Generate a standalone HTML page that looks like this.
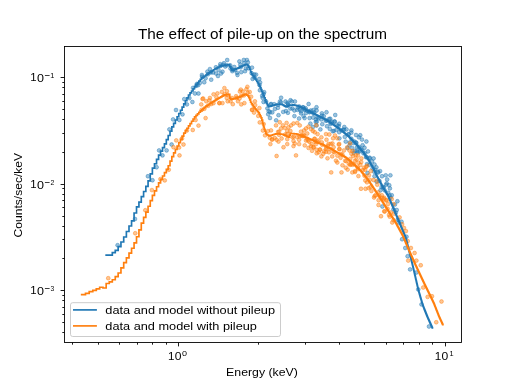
<!DOCTYPE html>
<html><head><meta charset="utf-8"><style>html,body{margin:0;padding:0;background:#fff;width:512px;height:384px;overflow:hidden}</style></head>
<body><svg width="512" height="384" viewBox="0 0 512 384" style="display:block;will-change:transform">
<rect width="512" height="384" fill="#fff"/>
<rect x="64.5" y="46.5" width="397" height="296" fill="#fff" stroke="none"/>
<g fill="#1f77b4" fill-opacity="0.45" stroke="#1f77b4" stroke-opacity="0.45" stroke-width="0.95"><circle cx="213.00" cy="72.50" r="1.9"/><circle cx="218.50" cy="70.00" r="1.9"/><circle cx="221.00" cy="73.50" r="1.9"/><circle cx="211.20" cy="79.70" r="1.9"/><circle cx="260.10" cy="82.50" r="1.9"/><circle cx="234.30" cy="67.00" r="1.9"/><circle cx="184.25" cy="99.10" r="1.9"/><circle cx="192.40" cy="102.00" r="1.9"/><circle cx="199.90" cy="82.90" r="1.9"/><circle cx="196.75" cy="84.10" r="1.9"/><circle cx="204.25" cy="82.25" r="1.9"/><circle cx="207.40" cy="71.60" r="1.9"/><circle cx="209.90" cy="69.10" r="1.9"/><circle cx="216.10" cy="73.50" r="1.9"/><circle cx="218.00" cy="76.00" r="1.9"/><circle cx="220.50" cy="66.00" r="1.9"/><circle cx="230.50" cy="68.50" r="1.9"/><circle cx="193.00" cy="87.90" r="1.9"/><circle cx="315.75" cy="121.90" r="1.9"/><circle cx="322.30" cy="124.20" r="1.9"/><circle cx="320.40" cy="129.40" r="1.9"/><circle cx="330.75" cy="122.80" r="1.9"/><circle cx="334.50" cy="121.40" r="1.9"/><circle cx="339.20" cy="123.75" r="1.9"/><circle cx="344.30" cy="127.00" r="1.9"/><circle cx="351.40" cy="130.30" r="1.9"/><circle cx="356.00" cy="135.00" r="1.9"/><circle cx="358.90" cy="137.30" r="1.9"/><circle cx="312.90" cy="127.00" r="1.9"/><circle cx="336.40" cy="129.80" r="1.9"/><circle cx="329.80" cy="128.90" r="1.9"/><circle cx="339.20" cy="132.20" r="1.9"/><circle cx="344.80" cy="136.90" r="1.9"/><circle cx="348.55" cy="134.50" r="1.9"/><circle cx="351.40" cy="138.75" r="1.9"/><circle cx="356.00" cy="142.50" r="1.9"/><circle cx="345.75" cy="141.60" r="1.9"/><circle cx="349.50" cy="145.30" r="1.9"/><circle cx="352.30" cy="148.10" r="1.9"/><circle cx="357.00" cy="147.20" r="1.9"/><circle cx="347.60" cy="148.10" r="1.9"/><circle cx="353.70" cy="152.80" r="1.9"/><circle cx="368.00" cy="151.40" r="1.9"/><circle cx="365.10" cy="153.30" r="1.9"/><circle cx="369.80" cy="158.40" r="1.9"/><circle cx="373.60" cy="158.40" r="1.9"/><circle cx="367.00" cy="164.10" r="1.9"/><circle cx="374.50" cy="164.50" r="1.9"/><circle cx="376.40" cy="167.30" r="1.9"/><circle cx="380.10" cy="171.10" r="1.9"/><circle cx="378.25" cy="172.50" r="1.9"/><circle cx="382.00" cy="176.25" r="1.9"/><circle cx="385.75" cy="175.30" r="1.9"/><circle cx="390.40" cy="175.30" r="1.9"/><circle cx="387.15" cy="179.50" r="1.9"/><circle cx="386.70" cy="183.30" r="1.9"/><circle cx="374.50" cy="176.25" r="1.9"/><circle cx="367.50" cy="173.00" r="1.9"/><circle cx="354.80" cy="150.90" r="1.9"/><circle cx="359.50" cy="151.40" r="1.9"/><circle cx="201.90" cy="75.00" r="1.9"/><circle cx="222.50" cy="71.70" r="1.9"/><circle cx="223.90" cy="63.25" r="1.9"/><circle cx="227.20" cy="60.00" r="1.9"/><circle cx="225.30" cy="66.50" r="1.9"/><circle cx="232.30" cy="71.20" r="1.9"/><circle cx="237.50" cy="75.00" r="1.9"/><circle cx="239.40" cy="61.40" r="1.9"/><circle cx="240.30" cy="64.65" r="1.9"/><circle cx="241.25" cy="72.15" r="1.9"/><circle cx="244.00" cy="63.25" r="1.9"/><circle cx="246.90" cy="60.00" r="1.9"/><circle cx="245.00" cy="71.20" r="1.9"/><circle cx="245.90" cy="68.40" r="1.9"/><circle cx="117.60" cy="245.20" r="1.9"/><circle cx="135.00" cy="219.00" r="1.9"/><circle cx="147.90" cy="176.25" r="1.9"/><circle cx="152.50" cy="180.25" r="1.9"/><circle cx="156.60" cy="167.25" r="1.9"/><circle cx="159.10" cy="150.40" r="1.9"/><circle cx="162.50" cy="155.40" r="1.9"/><circle cx="166.60" cy="150.40" r="1.9"/><circle cx="171.60" cy="144.50" r="1.9"/><circle cx="169.40" cy="129.40" r="1.9"/><circle cx="173.10" cy="119.40" r="1.9"/><circle cx="176.00" cy="110.00" r="1.9"/><circle cx="179.40" cy="120.00" r="1.9"/><circle cx="182.50" cy="114.40" r="1.9"/><circle cx="186.90" cy="104.40" r="1.9"/><circle cx="189.40" cy="98.10" r="1.9"/><circle cx="195.00" cy="93.50" r="1.9"/><circle cx="198.50" cy="93.50" r="1.9"/><circle cx="235.10" cy="70.10" r="1.9"/><circle cx="248.25" cy="68.25" r="1.9"/><circle cx="252.00" cy="67.60" r="1.9"/><circle cx="252.60" cy="78.90" r="1.9"/><circle cx="254.50" cy="77.60" r="1.9"/><circle cx="256.10" cy="74.60" r="1.9"/><circle cx="259.25" cy="79.00" r="1.9"/><circle cx="259.90" cy="90.25" r="1.9"/><circle cx="263.60" cy="94.00" r="1.9"/><circle cx="266.10" cy="101.50" r="1.9"/><circle cx="267.40" cy="108.40" r="1.9"/><circle cx="271.10" cy="104.00" r="1.9"/><circle cx="274.90" cy="109.00" r="1.9"/><circle cx="281.10" cy="97.75" r="1.9"/><circle cx="279.90" cy="101.50" r="1.9"/><circle cx="285.50" cy="101.50" r="1.9"/><circle cx="290.50" cy="100.25" r="1.9"/><circle cx="294.90" cy="101.50" r="1.9"/><circle cx="288.00" cy="104.00" r="1.9"/><circle cx="292.40" cy="108.40" r="1.9"/><circle cx="299.25" cy="106.50" r="1.9"/><circle cx="304.25" cy="109.00" r="1.9"/><circle cx="308.60" cy="104.00" r="1.9"/><circle cx="278.00" cy="107.75" r="1.9"/><circle cx="262.60" cy="97.80" r="1.9"/><circle cx="263.50" cy="102.00" r="1.9"/><circle cx="268.20" cy="114.25" r="1.9"/><circle cx="270.00" cy="112.00" r="1.9"/><circle cx="270.00" cy="118.00" r="1.9"/><circle cx="278.50" cy="115.20" r="1.9"/><circle cx="276.15" cy="120.30" r="1.9"/><circle cx="283.20" cy="111.90" r="1.9"/><circle cx="286.00" cy="111.00" r="1.9"/><circle cx="287.90" cy="112.80" r="1.9"/><circle cx="294.40" cy="110.50" r="1.9"/><circle cx="294.40" cy="116.10" r="1.9"/><circle cx="299.10" cy="118.50" r="1.9"/><circle cx="301.00" cy="113.30" r="1.9"/><circle cx="302.90" cy="107.20" r="1.9"/><circle cx="272.25" cy="112.40" r="1.9"/><circle cx="303.50" cy="116.10" r="1.9"/><circle cx="306.00" cy="113.00" r="1.9"/><circle cx="309.75" cy="111.75" r="1.9"/><circle cx="313.50" cy="113.60" r="1.9"/><circle cx="316.60" cy="110.50" r="1.9"/><circle cx="310.40" cy="123.60" r="1.9"/><circle cx="316.60" cy="125.50" r="1.9"/><circle cx="297.25" cy="109.90" r="1.9"/><circle cx="290.40" cy="108.60" r="1.9"/><circle cx="316.50" cy="107.25" r="1.9"/><circle cx="313.40" cy="110.00" r="1.9"/><circle cx="326.50" cy="112.25" r="1.9"/><circle cx="335.25" cy="115.00" r="1.9"/><circle cx="309.60" cy="118.10" r="1.9"/><circle cx="304.60" cy="118.10" r="1.9"/><circle cx="315.90" cy="119.40" r="1.9"/><circle cx="322.00" cy="115.60" r="1.9"/><circle cx="330.25" cy="118.75" r="1.9"/><circle cx="327.00" cy="126.25" r="1.9"/><circle cx="360.25" cy="135.25" r="1.9"/><circle cx="332.75" cy="131.25" r="1.9"/><circle cx="362.00" cy="139.60" r="1.9"/><circle cx="366.40" cy="141.50" r="1.9"/><circle cx="362.60" cy="145.25" r="1.9"/><circle cx="364.50" cy="147.75" r="1.9"/><circle cx="357.00" cy="150.90" r="1.9"/><circle cx="372.00" cy="161.50" r="1.9"/><circle cx="389.25" cy="185.25" r="1.9"/><circle cx="389.90" cy="188.40" r="1.9"/><circle cx="380.50" cy="190.25" r="1.9"/><circle cx="383.60" cy="187.10" r="1.9"/><circle cx="391.75" cy="195.25" r="1.9"/><circle cx="397.40" cy="201.25" r="1.9"/><circle cx="396.75" cy="210.00" r="1.9"/><circle cx="382.40" cy="206.50" r="1.9"/><circle cx="401.50" cy="221.75" r="1.9"/><circle cx="406.50" cy="236.75" r="1.9"/><circle cx="402.10" cy="239.25" r="1.9"/><circle cx="405.25" cy="248.00" r="1.9"/><circle cx="407.60" cy="256.25" r="1.9"/><circle cx="410.10" cy="269.40" r="1.9"/><circle cx="416.40" cy="272.50" r="1.9"/><circle cx="418.25" cy="289.40" r="1.9"/><circle cx="421.50" cy="304.40" r="1.9"/><circle cx="429.00" cy="326.50" r="1.9"/><circle cx="299.72" cy="109.50" r="1.9"/><circle cx="300.92" cy="111.24" r="1.9"/><circle cx="303.26" cy="107.44" r="1.9"/><circle cx="304.81" cy="109.93" r="1.9"/><circle cx="305.66" cy="108.25" r="1.9"/><circle cx="307.35" cy="110.88" r="1.9"/><circle cx="309.48" cy="112.28" r="1.9"/><circle cx="310.76" cy="110.52" r="1.9"/><circle cx="313.00" cy="117.60" r="1.9"/><circle cx="314.23" cy="112.39" r="1.9"/><circle cx="316.76" cy="121.76" r="1.9"/><circle cx="317.26" cy="117.38" r="1.9"/><circle cx="318.63" cy="118.29" r="1.9"/><circle cx="321.31" cy="119.43" r="1.9"/><circle cx="321.89" cy="113.34" r="1.9"/><circle cx="323.80" cy="116.20" r="1.9"/><circle cx="325.68" cy="120.72" r="1.9"/><circle cx="326.73" cy="120.62" r="1.9"/><circle cx="329.09" cy="119.00" r="1.9"/><circle cx="330.54" cy="124.03" r="1.9"/><circle cx="331.93" cy="121.70" r="1.9"/><circle cx="333.92" cy="130.87" r="1.9"/><circle cx="334.79" cy="121.75" r="1.9"/><circle cx="337.40" cy="125.50" r="1.9"/><circle cx="338.77" cy="126.09" r="1.9"/><circle cx="339.39" cy="138.37" r="1.9"/><circle cx="341.47" cy="130.48" r="1.9"/><circle cx="343.18" cy="129.81" r="1.9"/><circle cx="344.06" cy="129.63" r="1.9"/><circle cx="346.52" cy="129.41" r="1.9"/><circle cx="348.60" cy="134.25" r="1.9"/><circle cx="349.75" cy="142.47" r="1.9"/><circle cx="351.33" cy="132.63" r="1.9"/><circle cx="353.51" cy="143.08" r="1.9"/><circle cx="354.36" cy="141.47" r="1.9"/><circle cx="356.32" cy="143.06" r="1.9"/><circle cx="357.84" cy="152.39" r="1.9"/><circle cx="358.86" cy="146.80" r="1.9"/><circle cx="360.62" cy="148.77" r="1.9"/><circle cx="362.34" cy="150.49" r="1.9"/><circle cx="363.47" cy="153.37" r="1.9"/><circle cx="366.03" cy="157.11" r="1.9"/><circle cx="366.61" cy="157.21" r="1.9"/><circle cx="369.39" cy="164.83" r="1.9"/><circle cx="369.73" cy="157.70" r="1.9"/><circle cx="372.61" cy="168.34" r="1.9"/><circle cx="374.11" cy="171.67" r="1.9"/><circle cx="375.06" cy="169.72" r="1.9"/><circle cx="376.57" cy="181.66" r="1.9"/><circle cx="377.84" cy="171.72" r="1.9"/><circle cx="379.48" cy="180.94" r="1.9"/><circle cx="381.58" cy="187.10" r="1.9"/><circle cx="383.34" cy="187.70" r="1.9"/><circle cx="384.67" cy="190.30" r="1.9"/><circle cx="386.19" cy="184.64" r="1.9"/><circle cx="388.30" cy="192.77" r="1.9"/><circle cx="389.62" cy="195.42" r="1.9"/><circle cx="390.49" cy="197.75" r="1.9"/><circle cx="393.44" cy="209.43" r="1.9"/><circle cx="394.88" cy="204.57" r="1.9"/><circle cx="395.83" cy="212.56" r="1.9"/><circle cx="397.81" cy="219.65" r="1.9"/><circle cx="398.50" cy="222.52" r="1.9"/><circle cx="196.42" cy="85.73" r="1.9"/><circle cx="198.22" cy="85.15" r="1.9"/><circle cx="202.11" cy="76.66" r="1.9"/><circle cx="205.58" cy="78.29" r="1.9"/><circle cx="207.89" cy="74.27" r="1.9"/><circle cx="210.76" cy="72.48" r="1.9"/><circle cx="215.91" cy="67.25" r="1.9"/><circle cx="220.29" cy="64.18" r="1.9"/><circle cx="223.06" cy="64.85" r="1.9"/><circle cx="226.69" cy="65.27" r="1.9"/><circle cx="230.21" cy="65.31" r="1.9"/><circle cx="232.62" cy="69.69" r="1.9"/><circle cx="237.03" cy="72.84" r="1.9"/><circle cx="240.72" cy="67.27" r="1.9"/><circle cx="243.80" cy="59.96" r="1.9"/><circle cx="247.89" cy="62.30" r="1.9"/><circle cx="251.67" cy="73.30" r="1.9"/><circle cx="254.33" cy="74.47" r="1.9"/><circle cx="259.55" cy="85.11" r="1.9"/><circle cx="262.20" cy="95.70" r="1.9"/><circle cx="264.16" cy="92.16" r="1.9"/><circle cx="268.71" cy="111.22" r="1.9"/><circle cx="270.73" cy="104.47" r="1.9"/><circle cx="274.18" cy="104.22" r="1.9"/><circle cx="278.09" cy="104.75" r="1.9"/><circle cx="281.01" cy="102.28" r="1.9"/><circle cx="287.39" cy="102.88" r="1.9"/><circle cx="288.29" cy="105.03" r="1.9"/><circle cx="291.75" cy="101.46" r="1.9"/><circle cx="297.84" cy="107.46" r="1.9"/></g>
<g fill="#ff7f0e" fill-opacity="0.45" stroke="#ff7f0e" stroke-opacity="0.45" stroke-width="0.95"><circle cx="276.00" cy="125.40" r="1.9"/><circle cx="279.75" cy="122.25" r="1.9"/><circle cx="286.60" cy="122.90" r="1.9"/><circle cx="284.75" cy="127.90" r="1.9"/><circle cx="288.50" cy="127.25" r="1.9"/><circle cx="291.00" cy="125.40" r="1.9"/><circle cx="293.50" cy="123.50" r="1.9"/><circle cx="297.25" cy="122.90" r="1.9"/><circle cx="299.75" cy="125.40" r="1.9"/><circle cx="287.25" cy="131.00" r="1.9"/><circle cx="290.40" cy="131.00" r="1.9"/><circle cx="281.00" cy="128.50" r="1.9"/><circle cx="282.90" cy="125.40" r="1.9"/><circle cx="271.00" cy="130.40" r="1.9"/><circle cx="279.10" cy="131.60" r="1.9"/><circle cx="304.10" cy="130.40" r="1.9"/><circle cx="306.00" cy="128.50" r="1.9"/><circle cx="308.50" cy="126.60" r="1.9"/><circle cx="311.00" cy="129.10" r="1.9"/><circle cx="312.90" cy="131.00" r="1.9"/><circle cx="314.75" cy="132.25" r="1.9"/><circle cx="301.00" cy="131.60" r="1.9"/><circle cx="303.50" cy="134.75" r="1.9"/><circle cx="307.25" cy="133.50" r="1.9"/><circle cx="272.25" cy="139.10" r="1.9"/><circle cx="276.60" cy="139.75" r="1.9"/><circle cx="281.60" cy="138.50" r="1.9"/><circle cx="278.50" cy="141.60" r="1.9"/><circle cx="287.25" cy="139.10" r="1.9"/><circle cx="293.50" cy="141.00" r="1.9"/><circle cx="299.10" cy="139.75" r="1.9"/><circle cx="294.75" cy="143.50" r="1.9"/><circle cx="299.10" cy="144.10" r="1.9"/><circle cx="304.75" cy="145.40" r="1.9"/><circle cx="308.50" cy="147.90" r="1.9"/><circle cx="313.50" cy="147.25" r="1.9"/><circle cx="311.60" cy="144.10" r="1.9"/><circle cx="316.00" cy="144.10" r="1.9"/><circle cx="318.50" cy="140.40" r="1.9"/><circle cx="316.60" cy="149.75" r="1.9"/><circle cx="319.75" cy="149.75" r="1.9"/><circle cx="270.40" cy="144.10" r="1.9"/><circle cx="283.50" cy="147.25" r="1.9"/><circle cx="287.25" cy="144.10" r="1.9"/><circle cx="276.60" cy="156.00" r="1.9"/><circle cx="296.00" cy="155.40" r="1.9"/><circle cx="361.00" cy="188.75" r="1.9"/><circle cx="365.50" cy="188.75" r="1.9"/><circle cx="381.00" cy="216.25" r="1.9"/><circle cx="392.25" cy="222.50" r="1.9"/><circle cx="378.50" cy="205.00" r="1.9"/><circle cx="316.20" cy="125.20" r="1.9"/><circle cx="317.60" cy="134.10" r="1.9"/><circle cx="326.00" cy="134.10" r="1.9"/><circle cx="329.30" cy="134.50" r="1.9"/><circle cx="335.00" cy="135.50" r="1.9"/><circle cx="333.10" cy="138.30" r="1.9"/><circle cx="337.30" cy="138.30" r="1.9"/><circle cx="321.40" cy="137.30" r="1.9"/><circle cx="326.50" cy="139.70" r="1.9"/><circle cx="330.75" cy="143.90" r="1.9"/><circle cx="339.20" cy="143.90" r="1.9"/><circle cx="350.00" cy="143.40" r="1.9"/><circle cx="314.80" cy="138.75" r="1.9"/><circle cx="322.30" cy="144.80" r="1.9"/><circle cx="326.00" cy="149.05" r="1.9"/><circle cx="333.60" cy="147.20" r="1.9"/><circle cx="339.20" cy="149.05" r="1.9"/><circle cx="343.90" cy="150.50" r="1.9"/><circle cx="349.50" cy="150.50" r="1.9"/><circle cx="351.40" cy="153.75" r="1.9"/><circle cx="334.50" cy="152.30" r="1.9"/><circle cx="328.90" cy="152.30" r="1.9"/><circle cx="323.25" cy="153.75" r="1.9"/><circle cx="316.70" cy="153.30" r="1.9"/><circle cx="321.40" cy="156.40" r="1.9"/><circle cx="327.50" cy="158.30" r="1.9"/><circle cx="332.20" cy="156.40" r="1.9"/><circle cx="337.30" cy="162.50" r="1.9"/><circle cx="340.60" cy="157.80" r="1.9"/><circle cx="342.50" cy="165.30" r="1.9"/><circle cx="346.20" cy="161.10" r="1.9"/><circle cx="345.75" cy="167.70" r="1.9"/><circle cx="347.60" cy="169.60" r="1.9"/><circle cx="350.00" cy="164.90" r="1.9"/><circle cx="354.20" cy="164.40" r="1.9"/><circle cx="355.10" cy="160.65" r="1.9"/><circle cx="352.30" cy="172.40" r="1.9"/><circle cx="355.10" cy="171.00" r="1.9"/><circle cx="358.40" cy="176.10" r="1.9"/><circle cx="331.20" cy="172.40" r="1.9"/><circle cx="341.50" cy="172.40" r="1.9"/><circle cx="353.25" cy="156.00" r="1.9"/><circle cx="357.90" cy="155.50" r="1.9"/><circle cx="326.00" cy="151.75" r="1.9"/><circle cx="312.00" cy="150.80" r="1.9"/><circle cx="361.40" cy="158.40" r="1.9"/><circle cx="360.40" cy="165.00" r="1.9"/><circle cx="357.60" cy="167.30" r="1.9"/><circle cx="366.10" cy="166.90" r="1.9"/><circle cx="365.10" cy="169.70" r="1.9"/><circle cx="370.75" cy="171.10" r="1.9"/><circle cx="368.90" cy="175.30" r="1.9"/><circle cx="373.60" cy="180.00" r="1.9"/><circle cx="367.00" cy="182.30" r="1.9"/><circle cx="377.30" cy="184.70" r="1.9"/><circle cx="209.90" cy="98.00" r="1.9"/><circle cx="213.60" cy="94.30" r="1.9"/><circle cx="217.40" cy="93.40" r="1.9"/><circle cx="226.75" cy="98.00" r="1.9"/><circle cx="227.70" cy="101.30" r="1.9"/><circle cx="230.50" cy="101.30" r="1.9"/><circle cx="232.80" cy="104.20" r="1.9"/><circle cx="236.10" cy="96.20" r="1.9"/><circle cx="238.00" cy="101.30" r="1.9"/><circle cx="240.80" cy="89.60" r="1.9"/><circle cx="239.90" cy="91.50" r="1.9"/><circle cx="242.70" cy="91.50" r="1.9"/><circle cx="246.40" cy="89.20" r="1.9"/><circle cx="247.40" cy="86.80" r="1.9"/><circle cx="249.70" cy="92.00" r="1.9"/><circle cx="252.00" cy="109.80" r="1.9"/><circle cx="254.00" cy="112.60" r="1.9"/><circle cx="251.10" cy="96.70" r="1.9"/><circle cx="254.90" cy="101.30" r="1.9"/><circle cx="108.25" cy="278.20" r="1.9"/><circle cx="135.25" cy="233.25" r="1.9"/><circle cx="145.30" cy="210.25" r="1.9"/><circle cx="151.90" cy="190.10" r="1.9"/><circle cx="160.40" cy="179.10" r="1.9"/><circle cx="164.75" cy="180.40" r="1.9"/><circle cx="168.75" cy="169.75" r="1.9"/><circle cx="173.50" cy="147.25" r="1.9"/><circle cx="176.25" cy="140.40" r="1.9"/><circle cx="179.10" cy="147.50" r="1.9"/><circle cx="179.50" cy="155.40" r="1.9"/><circle cx="183.50" cy="144.50" r="1.9"/><circle cx="182.00" cy="138.50" r="1.9"/><circle cx="186.90" cy="130.60" r="1.9"/><circle cx="192.75" cy="130.00" r="1.9"/><circle cx="195.60" cy="120.00" r="1.9"/><circle cx="198.50" cy="125.60" r="1.9"/><circle cx="205.60" cy="118.10" r="1.9"/><circle cx="201.25" cy="104.40" r="1.9"/><circle cx="202.50" cy="99.00" r="1.9"/><circle cx="204.40" cy="108.75" r="1.9"/><circle cx="211.25" cy="104.00" r="1.9"/><circle cx="219.40" cy="103.10" r="1.9"/><circle cx="222.50" cy="103.10" r="1.9"/><circle cx="206.25" cy="101.25" r="1.9"/><circle cx="221.90" cy="91.90" r="1.9"/><circle cx="224.40" cy="88.10" r="1.9"/><circle cx="226.90" cy="91.25" r="1.9"/><circle cx="241.25" cy="104.40" r="1.9"/><circle cx="244.40" cy="103.10" r="1.9"/><circle cx="259.40" cy="108.10" r="1.9"/><circle cx="259.75" cy="122.40" r="1.9"/><circle cx="262.90" cy="130.50" r="1.9"/><circle cx="267.90" cy="131.10" r="1.9"/><circle cx="274.75" cy="138.00" r="1.9"/><circle cx="306.00" cy="140.50" r="1.9"/><circle cx="293.50" cy="146.10" r="1.9"/><circle cx="352.60" cy="150.90" r="1.9"/><circle cx="355.75" cy="155.25" r="1.9"/><circle cx="363.90" cy="167.75" r="1.9"/><circle cx="370.50" cy="187.10" r="1.9"/><circle cx="375.50" cy="195.25" r="1.9"/><circle cx="381.75" cy="195.25" r="1.9"/><circle cx="384.25" cy="197.75" r="1.9"/><circle cx="386.75" cy="200.25" r="1.9"/><circle cx="378.60" cy="200.25" r="1.9"/><circle cx="388.00" cy="204.00" r="1.9"/><circle cx="391.75" cy="199.00" r="1.9"/><circle cx="393.60" cy="204.00" r="1.9"/><circle cx="384.25" cy="211.25" r="1.9"/><circle cx="389.00" cy="214.90" r="1.9"/><circle cx="399.60" cy="217.40" r="1.9"/><circle cx="402.10" cy="224.25" r="1.9"/><circle cx="404.00" cy="228.00" r="1.9"/><circle cx="405.90" cy="231.10" r="1.9"/><circle cx="407.75" cy="241.10" r="1.9"/><circle cx="410.90" cy="248.00" r="1.9"/><circle cx="414.60" cy="253.00" r="1.9"/><circle cx="416.40" cy="260.60" r="1.9"/><circle cx="408.25" cy="260.60" r="1.9"/><circle cx="420.75" cy="265.25" r="1.9"/><circle cx="423.25" cy="287.50" r="1.9"/><circle cx="427.60" cy="296.90" r="1.9"/><circle cx="432.00" cy="296.25" r="1.9"/><circle cx="441.50" cy="301.50" r="1.9"/><circle cx="436.25" cy="322.25" r="1.9"/><circle cx="299.46" cy="136.26" r="1.9"/><circle cx="301.34" cy="135.69" r="1.9"/><circle cx="302.64" cy="136.13" r="1.9"/><circle cx="304.16" cy="135.94" r="1.9"/><circle cx="307.00" cy="138.66" r="1.9"/><circle cx="308.18" cy="140.54" r="1.9"/><circle cx="309.36" cy="141.81" r="1.9"/><circle cx="310.98" cy="146.36" r="1.9"/><circle cx="313.59" cy="147.39" r="1.9"/><circle cx="314.35" cy="138.91" r="1.9"/><circle cx="315.36" cy="141.78" r="1.9"/><circle cx="317.35" cy="141.59" r="1.9"/><circle cx="318.66" cy="152.35" r="1.9"/><circle cx="320.04" cy="149.41" r="1.9"/><circle cx="321.83" cy="142.45" r="1.9"/><circle cx="324.07" cy="151.32" r="1.9"/><circle cx="326.37" cy="147.47" r="1.9"/><circle cx="327.78" cy="145.85" r="1.9"/><circle cx="328.59" cy="143.87" r="1.9"/><circle cx="329.87" cy="149.03" r="1.9"/><circle cx="332.45" cy="143.48" r="1.9"/><circle cx="333.33" cy="151.64" r="1.9"/><circle cx="335.98" cy="160.64" r="1.9"/><circle cx="337.36" cy="155.63" r="1.9"/><circle cx="338.78" cy="144.60" r="1.9"/><circle cx="339.56" cy="149.07" r="1.9"/><circle cx="340.85" cy="153.96" r="1.9"/><circle cx="342.44" cy="154.70" r="1.9"/><circle cx="345.11" cy="160.78" r="1.9"/><circle cx="347.13" cy="147.33" r="1.9"/><circle cx="348.78" cy="163.66" r="1.9"/><circle cx="350.33" cy="158.81" r="1.9"/><circle cx="350.76" cy="164.15" r="1.9"/><circle cx="352.31" cy="164.78" r="1.9"/><circle cx="355.04" cy="171.99" r="1.9"/><circle cx="356.54" cy="159.51" r="1.9"/><circle cx="358.08" cy="169.13" r="1.9"/><circle cx="358.54" cy="162.79" r="1.9"/><circle cx="361.25" cy="162.03" r="1.9"/><circle cx="362.80" cy="170.11" r="1.9"/><circle cx="364.46" cy="175.69" r="1.9"/><circle cx="365.33" cy="180.51" r="1.9"/><circle cx="367.03" cy="165.74" r="1.9"/><circle cx="368.64" cy="188.15" r="1.9"/><circle cx="369.87" cy="179.78" r="1.9"/><circle cx="371.40" cy="191.03" r="1.9"/><circle cx="374.09" cy="197.58" r="1.9"/><circle cx="374.63" cy="196.06" r="1.9"/><circle cx="377.05" cy="180.79" r="1.9"/><circle cx="378.16" cy="192.36" r="1.9"/><circle cx="379.22" cy="195.68" r="1.9"/><circle cx="382.35" cy="197.76" r="1.9"/><circle cx="383.89" cy="198.89" r="1.9"/><circle cx="384.69" cy="211.59" r="1.9"/><circle cx="385.94" cy="200.35" r="1.9"/><circle cx="387.60" cy="208.74" r="1.9"/><circle cx="389.74" cy="216.66" r="1.9"/><circle cx="390.81" cy="212.47" r="1.9"/><circle cx="393.46" cy="220.22" r="1.9"/><circle cx="394.17" cy="213.66" r="1.9"/><circle cx="201.58" cy="109.91" r="1.9"/><circle cx="203.14" cy="98.46" r="1.9"/><circle cx="208.16" cy="105.83" r="1.9"/><circle cx="209.32" cy="100.36" r="1.9"/><circle cx="213.44" cy="103.20" r="1.9"/><circle cx="216.44" cy="97.33" r="1.9"/><circle cx="219.32" cy="103.06" r="1.9"/><circle cx="224.69" cy="94.34" r="1.9"/><circle cx="227.41" cy="94.88" r="1.9"/><circle cx="231.93" cy="98.00" r="1.9"/><circle cx="236.70" cy="97.92" r="1.9"/><circle cx="239.51" cy="98.52" r="1.9"/><circle cx="241.18" cy="95.94" r="1.9"/><circle cx="243.89" cy="95.43" r="1.9"/><circle cx="247.70" cy="92.75" r="1.9"/><circle cx="252.23" cy="109.90" r="1.9"/><circle cx="255.16" cy="105.06" r="1.9"/><circle cx="258.27" cy="115.94" r="1.9"/><circle cx="263.70" cy="124.04" r="1.9"/><circle cx="265.06" cy="135.35" r="1.9"/><circle cx="269.74" cy="137.71" r="1.9"/><circle cx="272.00" cy="139.71" r="1.9"/><circle cx="278.06" cy="131.97" r="1.9"/><circle cx="279.04" cy="134.75" r="1.9"/><circle cx="285.27" cy="134.41" r="1.9"/><circle cx="287.34" cy="134.00" r="1.9"/><circle cx="292.49" cy="137.35" r="1.9"/><circle cx="293.69" cy="136.63" r="1.9"/><circle cx="297.08" cy="137.09" r="1.9"/></g>
<path d="M106.16,255.10H109.28V255.10H112.31V252.61H115.26V250.40H118.14V246.62H120.95V241.99H123.70V237.00H126.38V231.46H129.00V226.02H131.56V220.79H134.07V212.99H136.52V206.90H138.93V202.09H141.28V196.65H143.59V191.47H145.85V186.45H148.07V180.88H150.25V173.85H152.38V168.07H154.48V163.77H156.54V159.44H158.57V155.13H160.56V151.16H162.52V147.57H164.44V143.88H166.33V139.65H168.20V135.50H170.03V131.25H171.83V126.92H173.61V123.34H175.36V120.01H177.08V116.73H178.78V113.50H180.46V110.27H182.11V107.05H183.73V103.88H185.34V100.76H186.92V97.87H188.48V95.01H190.02V92.84H191.54V90.97H193.04V88.76H194.52V86.58H195.99V84.43H197.43V82.67H198.86V81.03H200.27V79.40H201.66V77.95H203.03V76.97H204.39V75.99H205.74V75.03H207.07V74.08H208.38V73.18H209.68V72.31H210.96V71.45H212.23V70.60H213.49V69.76H214.73V69.03H215.96V68.34H217.18V67.66H218.38V66.99H219.58V66.33H220.76V65.90H221.92V65.71H223.08V65.52H224.22V65.33H225.36V65.14H226.48V64.96H227.59V64.78H228.69V64.67H229.78V66.67H230.87V68.66H231.94V70.47H233.00V70.04H234.05V69.61H235.09V69.18H236.12V68.76H237.15V68.34H238.16V67.89H239.17V67.42H240.16V66.95H241.15V66.49H242.13V66.03H243.10V65.57H244.07V65.12H245.02V64.67H245.97V64.23H246.91V64.89H247.84V65.61H248.77V67.10H249.69V69.46H250.60V71.80H251.50V74.11H252.40V75.42H253.29V76.52H254.17V77.60H255.05V78.68H255.92V79.98H256.78V81.47H257.64V83.01H258.49V84.55H259.33V86.08H260.17V87.60H261.00V89.54H261.83V91.54H262.65V93.53H263.47V95.58H264.27V97.71H265.08V99.82H265.88V101.93H266.67V103.54H267.46V105.12H268.24V106.70H269.01V106.53H269.78V106.31H270.55V106.08H271.31V105.86H272.07V105.64H272.82V105.41H273.57V105.19H274.31V104.97H275.04V104.75H275.78V104.54H276.51V104.40H277.23V104.40H277.95V104.40H278.66V104.40H279.37V104.40H280.08V104.40H280.78V104.40H281.48V104.40H282.17V104.56H282.86V104.97H283.54V105.38H284.22V105.79H284.90V106.20H285.57V106.60H286.24V107.00H286.91V106.86H287.57V106.20H288.22V105.55H288.88V105.27H289.53V105.21H290.18V105.16H290.82V105.10H291.46V105.05H292.09V104.99H292.73V104.94H293.35V104.93H293.98V105.05H294.60V105.17H295.22V105.29H295.84V105.41H296.45V105.52H297.06V105.64H297.66V105.76H298.27V105.98H298.87V106.27H299.46V106.55H300.06V106.84H300.65V107.12H301.24V107.41H301.82V107.69H302.40V107.97H302.98V108.25H303.56V108.52H304.13V108.82H304.70V109.11H305.27V109.41H305.83V109.70H306.39V109.99H306.95V110.28H307.51V110.57H308.06V110.86H308.61V111.14H309.16V111.43H309.71V111.71H310.25V111.99H310.79V112.27H311.33V112.55H311.87V112.82H312.40V113.08H312.93V113.35H313.46V113.61H313.99V113.87H314.51V114.14H315.03V114.40H315.55V114.65H316.07V114.91H316.58V115.17H317.09V115.42H317.60V115.68H318.11V115.93H318.62V116.18H319.12V116.44H319.62V116.69H320.12V116.93H320.62V117.18H321.11V117.43H321.60V117.67H322.09V117.92H322.58V118.16H323.07V118.41H323.55V118.65H324.04V118.89H324.52V119.13H325.00V119.37H325.47V119.60H325.95V119.84H326.42V120.10H326.89V120.42H327.36V120.73H327.82V121.04H328.29V121.35H328.75V121.66H329.21V121.96H329.67V122.27H330.13V122.57H330.59V122.88H331.04V123.18H331.49V123.48H331.94V123.78H332.39V124.08H332.84V124.37H333.28V124.67H333.73V124.97H334.17V125.28H334.61V125.59H335.05V125.90H335.49V126.22H335.92V126.53H336.35V126.84H336.79V127.14H337.22V127.45H337.65V127.76H338.07V128.06H338.50V128.36H338.92V128.67H339.34V128.97H339.77V129.27H340.19V129.57H340.60V129.87H341.02V130.19H341.43V130.53H341.85V130.88H342.26V131.22H342.67V131.56H343.08V131.90H343.49V132.24H343.89V132.58H344.30V132.92H344.70V133.25H345.10V133.59H345.50V133.92H345.90V134.25H346.30V134.58H346.70V134.91H347.09V135.24H347.49V135.57H347.88V135.90H348.27V136.22H348.66V136.61H349.05V136.99H349.44V137.38H349.82V137.77H350.21V138.15H350.59V138.53H350.97V138.91H351.35V139.29H351.73V139.67H352.11V140.05H352.49V140.43H352.86V140.80H353.24V141.18H353.61V141.55H353.99V141.92H354.36V142.29H354.73V142.66H355.10V143.03H355.46V143.40H355.83V143.76H356.19V144.19H356.56V144.61H356.92V145.04H357.28V145.46H357.64V145.88H358.00V146.30H358.36V146.71H358.72V147.13H359.08V147.55H359.43V147.96H359.79V148.37H360.14V148.78H360.49V149.19H360.84V149.60H361.19V150.01H361.54V150.42H361.89V150.82H362.23V151.22H362.58V151.63H362.92V152.03H363.27V152.43H363.61V152.92H363.95V153.43H364.29V153.94H364.63V154.45H364.97V154.96H365.31V155.47H365.65V155.97H365.98V156.47H366.32V156.97H366.65V157.47H366.98V157.97H367.31V158.47H367.64V158.96H367.97V159.46H368.30V159.95H368.63V160.44H368.96V160.93H369.28V161.42H369.61V161.98H369.93V162.54H370.26V163.11H370.58V163.67H370.90V164.23H371.22V164.79H371.54V165.35H371.86V165.91H372.18V166.47H372.50V167.02H372.81V167.57H373.13V168.13H373.44V168.72H373.76V169.39H374.07V170.06H374.38V170.73H374.69V171.39H375.00V172.06H375.31V172.72H375.62V173.38H375.93V174.04H376.24V174.70H376.54V175.35H376.85V176.00H377.15V176.57H377.46V177.14H377.76V177.71H378.06V178.28H378.37V178.84H378.67V179.40H378.97V179.96H379.27V180.52H379.56V181.08H379.86V181.64H380.16V182.19H380.46V182.75H380.75V183.30H381.05V183.85H381.34V184.40H381.63V184.95H381.92V185.50H382.22V186.04H382.51V186.56H382.80V187.05H383.09V187.54H383.38V188.03H383.66V188.52H383.95V189.01H384.24V189.49H384.52V189.98H384.81V190.46H385.09V190.94H385.38V191.42H385.66V191.90H385.94V192.38H386.22V192.86H386.51V193.33H386.79V193.81H387.07V194.28H387.35V194.76H387.62V195.23H387.90V195.70H388.18V196.30H388.45V196.93H388.73V197.57H389.01V198.20H389.28V198.83H389.55V199.46H389.83V200.09H390.10V200.72H390.37V201.34H390.64V201.96H390.91V202.59H391.18V203.21H391.45V203.83H391.72V204.44H391.99V205.06H392.26V205.68H392.52V206.29H392.79V206.90H393.06V207.51H393.32V208.13H393.58V208.77H393.85V209.40H394.11V210.04H394.37V210.67H394.64V211.31H394.90V211.94H395.16V212.57H395.42V213.20H395.68V213.83H395.94V214.45H396.20V215.08H396.45V215.70H396.71V216.32H396.97V216.94H397.22V217.56H397.48V218.18H397.74V218.80H397.99V219.41H398.24V220.03H398.50V220.64H398.75V221.25H399.00V221.86H399.25V222.47H399.51V223.07H399.76V223.67H400.01V224.26H400.26V224.86H400.50V225.45H400.75V226.04H401.00V226.63H401.25V227.22H401.50V227.81H401.74V228.39H401.99V228.98H402.23V229.56H402.48V230.14H402.72V230.73H402.97V231.31H403.21V231.88H403.45V232.46H403.69V233.04H403.94V233.61H404.18V234.19H404.42V234.76H404.66V235.33H404.90V235.90H405.14V236.47H405.38V237.04H405.62V237.61H405.85V238.29H406.09V239.24H406.33V240.20H406.56V241.15H406.80V242.10H407.03V243.05H407.27V243.99H407.50V244.94H407.74V245.88H407.97V246.82H408.20V247.76H408.44V248.69H408.67V249.63H408.90V250.56H409.13V251.49H409.36V252.42H409.59V253.35H409.82V254.27H410.05V255.19H410.28V256.12H410.51V257.04H410.74V257.95H410.97V258.87H411.19V259.78H411.42V260.70H411.65V261.61H411.87V262.52H412.10V263.42H412.32V264.33H412.55V265.25H412.77V266.21H412.99V267.18H413.22V268.14H413.44V269.10H413.66V270.05H413.88V271.01H414.10V271.96H414.33V272.91H414.55V273.86H414.77V274.81H414.99V275.76H415.21V276.70H415.42V277.65H415.64V278.59H415.86V279.53H416.08V280.46H416.30V281.40H416.51V282.33H416.73V283.27H416.95V284.20H417.16V285.13H417.38V286.05H417.59V286.98H417.81V287.90H418.02V288.82H418.23V289.74H418.45V290.53H418.66V291.26H418.87V292.00H419.08V292.73H419.30V293.46H419.51V294.18H419.72V294.91H419.93V295.64H420.14V296.36H420.35V297.08H420.56V297.81H420.77V298.53H420.98V299.24H421.19V299.96H421.39V300.68H421.60V301.39H421.81V302.11H422.01V302.82H422.22V303.53H422.43V304.24H422.63V304.95H422.84V305.48H423.04V305.99H423.25V306.50H423.45V307.01H423.66V307.52H423.86V308.03H424.06V308.54H424.27V309.04H424.47V309.55H424.67V310.05H424.87V310.56H425.07V311.06H425.27V311.56H425.48V312.06H425.68V312.56H425.88V313.06H426.08V313.56H426.27V314.06H426.47V314.56H426.67V315.05H426.87V315.55H427.07V316.04H427.27V316.54H427.46V317.03H427.66V317.52H427.86V317.96H428.05V318.40H428.25V318.83H428.45V319.27H428.64V319.71H428.84V320.14H429.03V320.57H429.22V321.01H429.42V321.44H429.61V321.87H429.81V322.30H430.00V322.73H430.19V323.16H430.38V323.59H430.58V324.02H430.77V324.45H430.96V324.88H431.15V325.30H431.34V325.73H431.53V326.15H431.72V326.58H431.91V327.00H432.10V327.42H432.29V327.84H432.48" fill="none" stroke="#1f77b4" stroke-width="1.67" stroke-linejoin="miter" stroke-linecap="square"/>
<path d="M81.66,294.57H85.49V293.34H89.20V291.60H92.80V290.45H96.29V288.90H99.67V287.21H102.96V288.01H106.16V283.51H109.28V281.95H112.31V279.71H115.26V276.65H118.14V272.97H120.95V267.95H123.70V262.58H126.38V257.87H129.00V253.20H131.56V248.21H134.07V242.92H136.52V236.76H138.93V229.92H141.28V223.12H143.59V217.38H145.85V212.19H148.07V206.28H150.25V200.58H152.38V195.29H154.48V190.86H156.54V186.72H158.57V182.84H160.56V179.40H162.52V176.01H164.44V172.68H166.33V169.41H168.20V165.72H170.03V161.17H171.83V156.70H173.61V152.80H175.36V149.37H177.08V145.99H178.78V142.66H180.46V139.37H182.11V136.14H183.73V133.17H185.34V130.69H186.92V128.24H188.48V125.87H190.02V123.56H191.54V121.28H193.04V119.03H194.52V116.92H195.99V115.35H197.43V113.80H198.86V112.27H200.27V110.95H201.66V109.73H203.03V108.53H204.39V107.34H205.74V106.19H207.07V105.29H208.38V104.39H209.68V103.50H210.96V102.62H212.23V101.79H213.49V101.05H214.73V100.31H215.96V99.59H217.18V98.87H218.38V98.17H219.58V97.47H220.76V96.79H221.92V96.11H223.08V95.44H224.22V94.95H225.36V94.82H226.48V94.68H227.59V94.55H228.69V94.42H229.78V98.41H230.87V99.40H231.94V99.14H233.00V98.88H234.05V98.62H235.09V98.36H236.12V98.05H237.15V97.64H238.16V97.23H239.17V96.83H240.16V96.44H241.15V96.01H242.13V95.54H243.10V95.07H244.07V94.61H245.02V94.15H245.97V94.50H246.91V95.23H247.84V95.95H248.77V97.54H249.69V99.92H250.60V102.28H251.50V103.95H252.40V105.41H253.29V106.87H254.17V107.86H255.05V108.84H255.92V109.81H256.78V110.77H257.64V111.73H258.49V112.82H259.33V114.49H260.17V116.15H261.00V117.79H261.83V120.17H262.65V123.57H263.47V126.96H264.27V129.31H265.08V131.46H265.88V133.59H266.67V134.52H267.46V134.96H268.24V135.40H269.01V135.84H269.78V135.69H270.55V135.45H271.31V135.21H272.07V134.97H272.82V134.74H273.57V134.51H274.31V134.27H275.04V134.04H275.78V133.81H276.51V133.74H277.23V133.80H277.95V133.87H278.66V133.94H279.37V134.01H280.08V134.08H280.78V134.14H281.48V134.21H282.17V134.28H282.86V134.50H283.54V134.81H284.22V135.11H284.90V135.42H285.57V135.72H286.24V136.02H286.91V136.32H287.57V136.61H288.22V136.91H288.88V137.19H289.53V135.14H290.18V133.41H290.82V133.46H291.46V133.52H292.09V133.58H292.73V133.63H293.35V133.69H293.98V133.74H294.60V133.80H295.22V133.85H295.84V133.90H296.45V133.96H297.06V134.04H297.66V134.28H298.27V134.51H298.87V134.74H299.46V134.98H300.06V135.21H300.65V135.43H301.24V135.66H301.82V135.89H302.40V136.11H302.98V136.34H303.56V136.56H304.13V136.78H304.70V137.00H305.27V137.22H305.83V137.44H306.39V137.67H306.95V137.89H307.51V138.11H308.06V138.34H308.61V138.56H309.16V138.77H309.71V138.99H310.25V139.21H310.79V139.42H311.33V139.64H311.87V139.85H312.40V140.12H312.93V140.40H313.46V140.69H313.99V140.97H314.51V141.24H315.03V141.52H315.55V141.80H316.07V142.03H316.58V142.25H317.09V142.46H317.60V142.67H318.11V142.88H318.62V143.09H319.12V143.29H319.62V143.50H320.12V143.71H320.62V143.91H321.11V144.11H321.60V144.32H322.09V144.52H322.58V144.72H323.07V144.92H323.55V145.15H324.04V145.39H324.52V145.63H325.00V145.87H325.47V146.10H325.95V146.34H326.42V146.58H326.89V146.81H327.36V147.05H327.82V147.28H328.29V147.51H328.75V147.74H329.21V147.97H329.67V148.20H330.13V148.43H330.59V148.66H331.04V148.90H331.49V149.17H331.94V149.43H332.39V149.69H332.84V149.95H333.28V150.20H333.73V150.46H334.17V150.72H334.61V150.97H335.05V151.22H335.49V151.48H335.92V151.73H336.35V151.98H336.79V152.23H337.22V152.48H337.65V152.73H338.07V152.98H338.50V153.22H338.92V153.47H339.34V153.72H339.77V153.97H340.19V154.21H340.60V154.46H341.02V154.70H341.43V154.94H341.85V155.19H342.26V155.43H342.67V155.67H343.08V155.91H343.49V156.15H343.89V156.38H344.30V156.62H344.70V156.86H345.10V157.09H345.50V157.33H345.90V157.59H346.30V157.92H346.70V158.25H347.09V158.58H347.49V158.91H347.88V159.24H348.27V159.57H348.66V159.90H349.05V160.22H349.44V160.55H349.82V160.87H350.21V161.20H350.59V161.52H350.97V161.84H351.35V162.16H351.73V162.48H352.11V162.79H352.49V163.11H352.86V163.42H353.24V163.74H353.61V164.09H353.99V164.44H354.36V164.80H354.73V165.15H355.10V165.51H355.46V165.86H355.83V166.21H356.19V166.56H356.56V166.91H356.92V167.26H357.28V167.61H357.64V167.95H358.00V168.30H358.36V168.64H358.72V168.98H359.08V169.32H359.43V169.66H359.79V170.00H360.14V170.34H360.49V170.68H360.84V171.02H361.19V171.45H361.54V171.88H361.89V172.30H362.23V172.73H362.58V173.15H362.92V173.58H363.27V174.00H363.61V174.42H363.95V174.84H364.29V175.25H364.63V175.67H364.97V176.09H365.31V176.50H365.65V176.91H365.98V177.32H366.32V177.74H366.65V178.14H366.98V178.55H367.31V178.96H367.64V179.37H367.97V179.81H368.30V180.30H368.63V180.80H368.96V181.29H369.28V181.78H369.61V182.27H369.93V182.75H370.26V183.24H370.58V183.72H370.90V184.21H371.22V184.69H371.54V185.17H371.86V185.65H372.18V186.13H372.50V186.60H372.81V187.08H373.13V187.55H373.44V188.02H373.76V188.49H374.07V188.96H374.38V189.43H374.69V189.90H375.00V190.37H375.31V190.83H375.62V191.30H375.93V191.76H376.24V192.22H376.54V192.68H376.85V193.14H377.15V193.60H377.46V194.05H377.76V194.51H378.06V194.96H378.37V195.42H378.67V195.87H378.97V196.32H379.27V196.77H379.56V197.22H379.86V197.66H380.16V198.11H380.46V198.56H380.75V199.04H381.05V199.51H381.34V199.98H381.63V200.45H381.92V200.91H382.22V201.38H382.51V201.84H382.80V202.31H383.09V202.77H383.38V203.23H383.66V203.69H383.95V204.15H384.24V204.61H384.52V205.07H384.81V205.52H385.09V205.98H385.38V206.43H385.66V206.88H385.94V207.33H386.22V207.78H386.51V208.23H386.79V208.67H387.07V209.11H387.35V209.55H387.62V209.98H387.90V210.42H388.18V210.85H388.45V211.29H388.73V211.72H389.01V212.15H389.28V212.58H389.55V213.01H389.83V213.44H390.10V213.87H390.37V214.30H390.64V214.72H390.91V215.15H391.18V215.57H391.45V215.99H391.72V216.42H391.99V216.84H392.26V217.26H392.52V217.67H392.79V218.09H393.06V218.51H393.32V218.93H393.58V219.34H393.85V219.75H394.11V220.17H394.37V220.58H394.64V220.99H394.90V221.40H395.16V221.82H395.42V222.30H395.68V222.77H395.94V223.25H396.20V223.72H396.45V224.19H396.71V224.66H396.97V225.14H397.22V225.60H397.48V226.07H397.74V226.54H397.99V227.01H398.24V227.47H398.50V227.93H398.75V228.40H399.00V228.86H399.25V229.32H399.51V229.78H399.76V230.24H400.01V230.70H400.26V231.16H400.50V231.61H400.75V232.07H401.00V232.52H401.25V232.97H401.50V233.43H401.74V233.88H401.99V234.33H402.23V234.78H402.48V235.23H402.72V235.72H402.97V236.30H403.21V236.87H403.45V237.44H403.69V238.01H403.94V238.58H404.18V239.15H404.42V239.72H404.66V240.28H404.90V240.85H405.14V241.41H405.38V241.97H405.62V242.54H405.85V243.10H406.09V243.65H406.33V244.21H406.56V244.77H406.80V245.33H407.03V245.88H407.27V246.43H407.50V246.99H407.74V247.54H407.97V248.09H408.20V248.64H408.44V249.18H408.67V249.73H408.90V250.26H409.13V250.78H409.36V251.29H409.59V251.80H409.82V252.31H410.05V252.82H410.28V253.33H410.51V253.84H410.74V254.35H410.97V254.86H411.19V255.36H411.42V255.87H411.65V256.37H411.87V256.88H412.10V257.38H412.32V257.88H412.55V258.38H412.77V258.88H412.99V259.38H413.22V259.87H413.44V260.37H413.66V260.86H413.88V261.36H414.10V261.85H414.33V262.34H414.55V262.84H414.77V263.33H414.99V263.82H415.21V264.30H415.42V264.79H415.64V265.28H415.86V265.76H416.08V266.25H416.30V266.72H416.51V267.18H416.73V267.64H416.95V268.10H417.16V268.56H417.38V269.02H417.59V269.47H417.81V269.93H418.02V270.38H418.23V270.84H418.45V271.29H418.66V271.74H418.87V272.19H419.08V272.64H419.30V273.09H419.51V273.54H419.72V273.99H419.93V274.44H420.14V274.88H420.35V275.33H420.56V275.77H420.77V276.22H420.98V276.66H421.19V277.10H421.39V277.54H421.60V277.98H421.81V278.42H422.01V278.86H422.22V279.30H422.43V279.74H422.63V280.18H422.84V280.61H423.04V281.05H423.25V281.48H423.45V281.92H423.66V282.35H423.86V282.78H424.06V283.21H424.27V283.64H424.47V284.05H424.67V284.46H424.87V284.87H425.07V285.29H425.27V285.70H425.48V286.11H425.68V286.51H425.88V286.92H426.08V287.33H426.27V287.74H426.47V288.14H426.67V288.55H426.87V288.95H427.07V289.36H427.27V289.76H427.46V290.16H427.66V290.56H427.86V290.97H428.05V291.37H428.25V291.77H428.45V292.17H428.64V292.56H428.84V292.96H429.03V293.36H429.22V293.76H429.42V294.15H429.61V294.55H429.81V294.94H430.00V295.34H430.19V295.73H430.38V296.12H430.58V296.51H430.77V296.90H430.96V297.30H431.15V297.69H431.34V298.08H431.53V298.48H431.72V298.88H431.91V299.28H432.10V299.68H432.29V300.08H432.48V300.48H432.67V300.88H432.86V301.28H433.04V301.68H433.23V302.07H433.42V302.47H433.61V302.87H433.79V303.26H433.98V303.69H434.17V304.16H434.35V304.64H434.54V305.11H434.72V305.58H434.91V306.05H435.09V306.52H435.28V306.99H435.46V307.46H435.65V307.93H435.83V308.40H436.01V308.87H436.20V309.33H436.38V309.80H436.56V310.26H436.74V310.73H436.92V311.19H437.11V311.65H437.29V312.11H437.47V312.57H437.65V313.03H437.83V313.49H438.01V313.95H438.19V314.41H438.37V314.87H438.55V315.33H438.73V315.78H438.91V316.24H439.08V316.63H439.26V317.02H439.44V317.41H439.62V317.80H439.80V318.18H439.97V318.57H440.15V318.96H440.33V319.34H440.50V319.73H440.68V320.11H440.85V320.50H441.03V320.88H441.21V321.27H441.38V321.65H441.55V322.03H441.73V322.41H441.90V322.79H442.08V323.17H442.25V323.55H442.42V323.93H442.60V324.31H442.77V324.69H442.94" fill="none" stroke="#ff7f0e" stroke-width="1.67" stroke-linejoin="miter" stroke-linecap="square"/>
<rect x="64.5" y="46.5" width="397" height="296" fill="none" stroke="#000" stroke-width="0.89"/>
<g stroke="#000" stroke-width="0.89">
<line x1="178.5" y1="342.5" x2="178.5" y2="346.4" />
<line x1="445.5" y1="342.5" x2="445.5" y2="346.4" />
<line x1="72.5" y1="342.5" x2="72.5" y2="344.7" />
<line x1="98.5" y1="342.5" x2="98.5" y2="344.7" />
<line x1="119.5" y1="342.5" x2="119.5" y2="344.7" />
<line x1="137.5" y1="342.5" x2="137.5" y2="344.7" />
<line x1="152.5" y1="342.5" x2="152.5" y2="344.7" />
<line x1="166.5" y1="342.5" x2="166.5" y2="344.7" />
<line x1="258.5" y1="342.5" x2="258.5" y2="344.7" />
<line x1="305.5" y1="342.5" x2="305.5" y2="344.7" />
<line x1="339.5" y1="342.5" x2="339.5" y2="344.7" />
<line x1="364.5" y1="342.5" x2="364.5" y2="344.7" />
<line x1="386.5" y1="342.5" x2="386.5" y2="344.7" />
<line x1="403.5" y1="342.5" x2="403.5" y2="344.7" />
<line x1="419.5" y1="342.5" x2="419.5" y2="344.7" />
<line x1="432.5" y1="342.5" x2="432.5" y2="344.7" />
<line x1="64.5" y1="77.5" x2="60.6" y2="77.5" />
<line x1="64.5" y1="184.5" x2="60.6" y2="184.5" />
<line x1="64.5" y1="290.5" x2="60.6" y2="290.5" />
<line x1="64.5" y1="332.5" x2="62.3" y2="332.5" />
<line x1="64.5" y1="322.5" x2="62.3" y2="322.5" />
<line x1="64.5" y1="314.5" x2="62.3" y2="314.5" />
<line x1="64.5" y1="307.5" x2="62.3" y2="307.5" />
<line x1="64.5" y1="300.5" x2="62.3" y2="300.5" />
<line x1="64.5" y1="295.5" x2="62.3" y2="295.5" />
<line x1="64.5" y1="258.5" x2="62.3" y2="258.5" />
<line x1="64.5" y1="239.5" x2="62.3" y2="239.5" />
<line x1="64.5" y1="226.5" x2="62.3" y2="226.5" />
<line x1="64.5" y1="216.5" x2="62.3" y2="216.5" />
<line x1="64.5" y1="207.5" x2="62.3" y2="207.5" />
<line x1="64.5" y1="200.5" x2="62.3" y2="200.5" />
<line x1="64.5" y1="194.5" x2="62.3" y2="194.5" />
<line x1="64.5" y1="188.5" x2="62.3" y2="188.5" />
<line x1="64.5" y1="152.5" x2="62.3" y2="152.5" />
<line x1="64.5" y1="133.5" x2="62.3" y2="133.5" />
<line x1="64.5" y1="119.5" x2="62.3" y2="119.5" />
<line x1="64.5" y1="109.5" x2="62.3" y2="109.5" />
<line x1="64.5" y1="101.5" x2="62.3" y2="101.5" />
<line x1="64.5" y1="94.5" x2="62.3" y2="94.5" />
<line x1="64.5" y1="87.5" x2="62.3" y2="87.5" />
<line x1="64.5" y1="82.5" x2="62.3" y2="82.5" />
</g>
<g font-family='"Liberation Sans", sans-serif' fill="#000">
<text x="262.5" y="38.9" font-size="13.8" text-anchor="middle" textLength="249" lengthAdjust="spacingAndGlyphs">The effect of pile-up on the spectrum</text>
<text x="262" y="375.9" font-size="11.1" text-anchor="middle" textLength="71.8" lengthAdjust="spacingAndGlyphs">Energy (keV)</text>
<text transform="translate(21.9,195.2) rotate(-90)" x="0" y="0" font-size="11.1" text-anchor="middle" textLength="84.6" lengthAdjust="spacingAndGlyphs">Counts/sec/keV</text>
</g>
<g font-family='"Liberation Sans", sans-serif' fill="#000">
<text transform="translate(30.19,81.40) scale(1.051,1)" font-size="10.87">1</text>
<text transform="translate(37.00,81.50) scale(1.156,1)" font-size="10.86">0</text>
<rect x="44.9" y="75.0" width="4.7" height="0.75"/>
<text transform="translate(50.21,77.75) scale(1.072,1)" font-size="6.88">1</text>
<text transform="translate(30.19,188.40) scale(1.051,1)" font-size="10.87">1</text>
<text transform="translate(37.00,188.50) scale(1.156,1)" font-size="10.86">0</text>
<rect x="44.9" y="182.0" width="4.7" height="0.75"/>
<text transform="translate(50.46,184.75) scale(1.015,1)" font-size="6.79">2</text>
<text transform="translate(30.19,294.40) scale(1.051,1)" font-size="10.87">1</text>
<text transform="translate(37.00,294.50) scale(1.156,1)" font-size="10.86">0</text>
<rect x="44.9" y="288.0" width="4.7" height="0.75"/>
<text transform="translate(50.53,290.75) scale(0.993,1)" font-size="6.79">3</text>
<text transform="translate(168.07,359.80) scale(1.045,1)" font-size="11.16">1</text>
<text transform="translate(174.71,359.90) scale(1.088,1)" font-size="11.14">0</text>
<text transform="translate(182.09,355.80) scale(1.347,1)" font-size="6.71">0</text>
<text transform="translate(434.87,359.80) scale(1.045,1)" font-size="11.16">1</text>
<text transform="translate(441.51,359.90) scale(1.088,1)" font-size="11.14">0</text>
<text transform="translate(449.41,355.80) scale(1.084,1)" font-size="6.81">1</text>
</g>
<rect x="70.5" y="302.7" width="210" height="33.8" rx="2.2" fill="#fff" fill-opacity="0.8" stroke="#cccccc" stroke-width="1"/>
<line x1="73" y1="309.9" x2="96.9" y2="309.9" stroke="#1f77b4" stroke-width="1.67"/>
<line x1="73" y1="325.9" x2="96.9" y2="325.9" stroke="#ff7f0e" stroke-width="1.67"/>
<g font-family='"Liberation Sans", sans-serif' fill="#000" font-size="11.1">
<text x="105.3" y="313.6" textLength="169.7" lengthAdjust="spacingAndGlyphs">data and model without pileup</text>
<text x="105.3" y="329.6" textLength="151.6" lengthAdjust="spacingAndGlyphs">data and model with pileup</text>
</g>
</svg></body></html>
